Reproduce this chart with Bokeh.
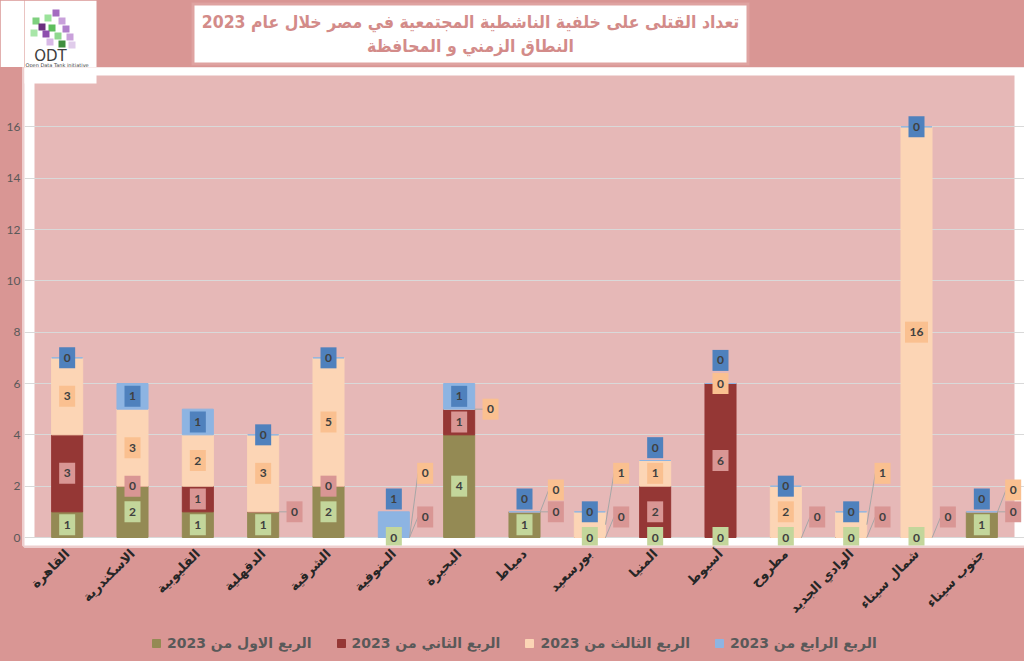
import math
from bokeh.plotting import figure
from bokeh.models import (Range1d, FactorRange, ColumnDataSource, FixedTicker,
                          Legend, LegendItem, BoxAnnotation)
from bokeh.layouts import column
from bokeh.transform import dodge
from bokeh.core.properties import value
from bokeh.embed import file_html
from bokeh.resources import INLINE

RLE, PDF = "\u202b", "\u202c"

# ---------------- data ----------------
governorates = ["القاهرة", "الاسكندرية", "القليوبية", "الدقهلية", "الشرقية",
                "المنوفية", "البحيرة", "دمياط", "بورسعيد", "المنيا", "أسيوط",
                "مطروح", "الوادي الجديد", "شمال سيناء", "جنوب سيناء"]
q1 = [1, 2, 1, 1, 2, 0, 4, 1, 0, 0, 0, 0, 0, 0, 1]
q2 = [3, 0, 1, 0, 0, 0, 1, 0, 0, 2, 6, 0, 0, 0, 0]
q3 = [3, 3, 2, 3, 5, 0, 0, 0, 1, 1, 0, 2, 1, 16, 0]
q4 = [0, 1, 1, 0, 0, 1, 1, 0, 0, 0, 0, 0, 0, 0, 0]
series_names = ["الربع الاول من 2023", "الربع الثاني من 2023",
                "الربع الثالث من 2023", "الربع الرابع من 2023"]
y_ticks = [0, 2, 4, 6, 8, 10, 12, 14, 16]
y_max = 18
title_line1 = "تعداد القتلى على خلفية الناشطية المجتمعية في مصر خلال عام 2023"
title_line2 = "النطاق الزمني و المحافظة"
logo_name = "ODT"
logo_tagline = "Open Data Tank initiative"

# ---------------- styles ----------------
bar_colors = ["#948A54", "#953735", "#FCD5B5", "#8DB4E2"]
label_colors = ["#C3D69B", "#D99694", "#FAC090", "#4F81BD"]
outer_bg = "#D99694"
inner_bg = "#E6B8B7"
FONT = "Lato"
AR_FONT = "DejaVu Sans"

W = 1024
LEFT = 24                # left border shared by the stacked figures
TOP_H, LEG_H = 67, 30
MAIN_H = 661 - TOP_H - LEG_H
FRAME_H = 478            # plot area incl. white glow band
GLOW_Y = 8               # px of white glow above / below the plot area
GLOW_X = 10              # px of white glow left / right of the plot area
px_per_unit = (FRAME_H - 2 * GLOW_Y) / y_max
glow_units = GLOW_Y / px_per_unit
cat_px = (W - LEFT - 2 * GLOW_X) / len(governorates)

series = [q1, q2, q3, q4]
keys = ["q1", "q2", "q3", "q4"]
src = ColumnDataSource(dict(gov=governorates, q1=q1, q2=q2, q3=q3, q4=q4))

# ================= top strip: logo + title =================
top = figure(width=W, height=TOP_H, x_range=Range1d(LEFT, W), y_range=Range1d(TOP_H, 0),
             x_axis_location=None, y_axis_location=None,
             min_border_left=LEFT, min_border_right=0, min_border_top=0,
             min_border_bottom=0,
             output_backend="svg", toolbar_location=None,
             background_fill_color=outer_bg, border_fill_color="white",
             outline_line_color=None)
top.grid.visible = False
top.quad(left=[191], right=[749], top=[2], bottom=[65], fill_color="#E3ABAA",
         line_color=None, fill_alpha=0.6)
top.quad(left=[194], right=[746], top=[5], bottom=[62], fill_color="white",
         line_color=None)
top.text(x=[470, 470], y=[21, 45], text=[RLE + title_line1 + PDF, title_line2],
         text_align="center", text_baseline="middle",
         text_font=value("DejaVu Sans Condensed, DejaVu Sans"),
         text_font_style="bold", text_font_size="17.5px", text_color="#D38B89")
# logo
top.quad(left=[LEFT], right=[96], top=[0], bottom=[TOP_H], fill_color="white",
         line_color=None)
cubes = [(52, 9, "#A46BC0"), (44, 14, "#9BE39B"), (58, 17, "#C9A1DB"),
         (32, 17, "#7FD07F"), (38, 23, "#6B2F7F"), (48, 24, "#5DBE5D"),
         (62, 25, "#B07FCC"), (30, 29, "#A8E6A8"), (42, 30, "#8E4FAE"),
         (54, 32, "#8FD88F"), (66, 33, "#C9A1DB"), (46, 38, "#D7B8E6"),
         (58, 40, "#3F8F3F"), (68, 41, "#E0CCEB")]
top.quad(left=[c[0] for c in cubes], right=[c[0] + 7 for c in cubes],
         top=[c[1] for c in cubes], bottom=[c[1] + 7 for c in cubes],
         fill_color=[c[2] for c in cubes], line_color=None)
top.text(x=[50], y=[55], text=[logo_name], text_align="center", text_baseline="middle",
         text_font=value("DejaVu Sans"), text_font_size="15px", text_color="#404040")
top.text(x=[25], y=[64], text=[logo_tagline], text_align="left",
         text_baseline="middle", text_font=value("DejaVu Sans"),
         text_font_size="5px", text_color="#404040")

# ================= main chart =================
p = figure(x_range=FactorRange(factors=governorates, range_padding=GLOW_X / cat_px,
                               range_padding_units="absolute"),
           y_range=Range1d(-glow_units, y_max + glow_units),
           width=W, height=MAIN_H, output_backend="svg", toolbar_location=None,
           min_border_left=LEFT, min_border_right=0, min_border_top=0,
           min_border_bottom=MAIN_H - FRAME_H,
           background_fill_color="white", border_fill_color=outer_bg,
           outline_line_color="white", outline_line_alpha=0.55, outline_line_width=5)

p.add_layout(BoxAnnotation(left=0, right=len(governorates), bottom=0, top=y_max,
                           fill_color=inner_bg, fill_alpha=1, line_color=None,
                           level="image"))
p.add_layout(BoxAnnotation(left=0, right=96, top=0, bottom=16,
                           left_units="canvas", right_units="canvas",
                           top_units="canvas", bottom_units="canvas",
                           fill_color="white", fill_alpha=1, line_color=None,
                           level="overlay"))

renderers = p.vbar_stack(keys, x="gov", width=0.475, color=bar_colors, source=src)

# ---------------- data labels ----------------
cx, cy, ct, cc, cw = [], [], [], [], []
rx, ry, rt, rc, rw = [], [], [], [], []
lx, ly0, ly1 = [], [], []
for i, g in enumerate(governorates):
    vals = [s[i] for s in series]
    bottoms = [sum(vals[:k]) for k in range(4)]
    total = sum(vals)
    placed_c, placed_r = [], []
    for k in range(4):
        y = bottoms[k] + vals[k] / 2
        txt = str(vals[k])
        w = 9 + 7 * len(txt)
        if all(abs(y - c) >= 0.8 for c in placed_c):
            placed_c.append(y)
            cx.append(g); cy.append(y); ct.append(txt); cc.append(label_colors[k]); cw.append(w)
        elif k == 3:
            y2 = max(total + 0.5, max(placed_c) + 0.9)
            placed_c.append(y2)
            cx.append(g); cy.append(y2); ct.append(txt); cc.append(label_colors[k]); cw.append(w)
        else:
            yr = max(y, 0.8)
            while any(abs(yr - r) < 0.85 for r in placed_r):
                yr += 0.85
            placed_r.append(yr)
            rx.append(g); ry.append(yr); rt.append(txt); rc.append(label_colors[k]); rw.append(w)
            lx.append(g); ly0.append(y); ly1.append(yr)

lead_src = ColumnDataSource(dict(x=lx, y0=ly0, y1=ly1))
p.segment(x0=dodge("x", 0.24, range=p.x_range), x1=dodge("x", 0.37, range=p.x_range),
          y0="y0", y1="y1", source=lead_src, line_color="#A6A6A6", line_width=1)

csrc = ColumnDataSource(dict(x=cx, y=cy, t=ct, c=cc, w=cw))
rsrc = ColumnDataSource(dict(x=rx, y=ry, t=rt, c=rc, w=rw))
for s, dx in [(csrc, 0.0), (rsrc, 0.48)]:
    xx = dodge("x", dx, range=p.x_range)
    p.rect(x=xx, y="y", width="w", height=21, width_units="screen",
           height_units="screen", fill_color="c", line_color=None, source=s)
    p.text(x=xx, y="y", text="t", source=s, text_align="center",
           text_baseline="middle", text_font=value(FONT),
           text_font_style="bold", text_font_size="12px", text_color="#404040")

# ---------------- axes & grid ----------------
for ax in (p.xaxis, p.yaxis):
    ax.axis_line_color = None
    ax.major_tick_line_color = None
    ax.minor_tick_line_color = None
    ax.major_tick_out = 0
    ax.major_tick_in = 0
    ax.minor_tick_out = 0

p.yaxis.ticker = FixedTicker(ticks=y_ticks)
p.yaxis.major_label_standoff = 4
p.yaxis.major_label_text_font = FONT
p.yaxis.major_label_text_font_size = "12px"
p.yaxis.major_label_text_color = "#595959"

p.xaxis.major_label_orientation = math.pi / 4
p.xaxis.major_label_standoff = 6
p.xaxis.major_label_text_font = AR_FONT
p.xaxis.major_label_text_font_style = "bold"
p.xaxis.major_label_text_font_size = "13px"
p.xaxis.major_label_text_color = "#262626"

p.xgrid.grid_line_color = None
p.ygrid.grid_line_color = "#D9D9D9"
p.ygrid.grid_line_width = 1

# ================= legend strip =================
leg = figure(width=W, height=LEG_H, x_range=Range1d(0, 1), y_range=Range1d(0, 1),
             x_axis_location=None, y_axis_location=None,
             min_border_left=LEFT, min_border_right=0, min_border_top=0,
             min_border_bottom=0,
             output_backend="svg", toolbar_location=None,
             background_fill_color=outer_bg, border_fill_color=outer_bg,
             outline_line_color=None)
leg.grid.visible = False
# swatch-only renderers (their single point lies outside the strip's visible range)
dummies = [leg.vbar(x=[-5], top=[-5], width=0.1, color=c) for c in bar_colors]
legend = Legend(items=[LegendItem(label=RLE + n + PDF, renderers=[r])
                       for n, r in zip(series_names, dummies)],
                orientation="horizontal", location=(127, 10),
                background_fill_alpha=0, border_line_color=None,
                label_text_font=AR_FONT, label_text_font_style="bold",
                label_text_font_size="14px", label_text_color="#595959",
                glyph_width=10, glyph_height=10, label_standoff=6,
                spacing=24, padding=0, margin=0)
leg.add_layout(legend)

layout = column(top, p, leg, spacing=0)
html = file_html(layout, INLINE)
html = html.replace("<head>", "<head><style>html,body{margin:0;padding:0;background:%s;}</style>" % outer_bg, 1)
open("out.html", "w").write(html)
